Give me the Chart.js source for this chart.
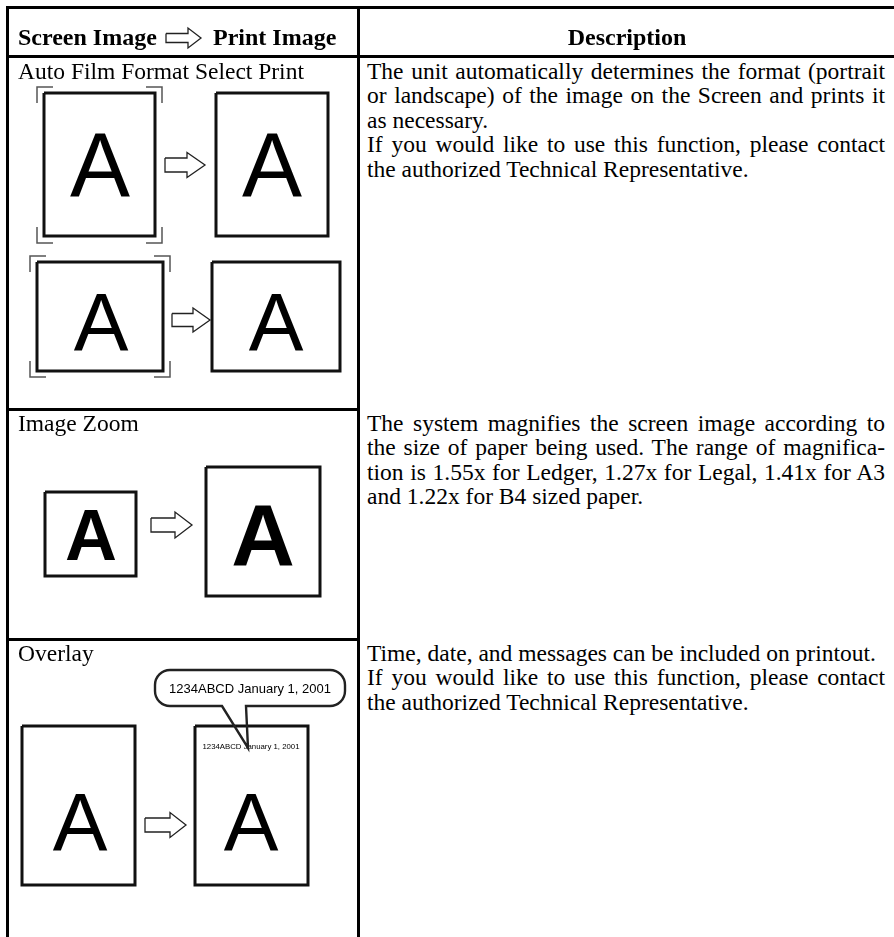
<!DOCTYPE html>
<html>
<head>
<meta charset="utf-8">
<script src="https://cdn.jsdelivr.net/npm/chart.js@4.4.1/dist/chart.umd.min.js"></script>
<style>
  body { margin: 0; background: #fff; width: 894px; height: 937px; overflow: hidden; position: relative;
         font-family: "Liberation Serif", "Times New Roman", serif; color: #000; }
  #diagram { position: absolute; left: 0; top: 0; }
  .rule { position: absolute; background: #000; }
  .cell { position: absolute; font-size: 23.5px; line-height: 24.5px; }
  .cell div { white-space: nowrap; height: 24.5px; }
  .cell div.just { text-align: justify; text-align-last: justify; white-space: normal; }
  .head { position: absolute; font-weight: bold; font-size: 24px; line-height: 30px; white-space: nowrap; }
</style>
</head>
<body>
<canvas id="diagram" width="360" height="937"></canvas>
<div id="table"></div>
<script>
// Table text
const headerLeft = ['Screen Image', 'Print Image'];
const headerRight = 'Description';
const featureNames = ['Auto Film Format Select Print', 'Image Zoom', 'Overlay'];
const paperSizes = ['Ledger', 'Legal', 'A3', 'B4'];
const zoomFactors = [1.55, 1.27, 1.41, 1.22];
const overlayStamp = '1234ABCD January 1, 2001';
const contactLines = ['If you would like to use this function, please contact', 'the authorized Technical Representative.'];

function zoomLabel(i) {
  return zoomFactors[i].toFixed(2) + 'x for ' + paperSizes[i];
}

// each description is a list of paragraphs, each paragraph a list of lines
const descriptions = [
  [
    ['The unit automatically determines the format (portrait', 'or landscape) of the image on the Screen and prints it', 'as necessary.'],
    contactLines
  ],
  [
    ['The system magnifies the screen image according to',
     'the size of paper being used. The range of magnifica-',
     'tion is ' + [0, 1, 2].map(zoomLabel).join(', '),
     'and ' + zoomLabel(3) + ' sized paper.']
  ],
  [
    ['Time, date, and messages can be included on printout.'],
    contactLines
  ]
];

// Layout (page pixels)
const rowBaselines = [79, 431, 661];
const lineGap = 24.5;
const rules = [
  [6, 6, 888, 3], [6, 6, 3, 931], [357, 6, 3, 931], [6, 55, 888, 3],
  [6, 408, 354, 3], [6, 638, 354, 3]
];

// pages drawn in the left column: [x1, y1, x2, y2]
const pages = [
  [44, 93, 155, 236], [216, 93, 328, 236],
  [37, 262, 163, 371], [212, 262, 340, 371],
  [45, 492, 136, 576], [206, 467, 320, 596],
  [22, 726, 135, 885], [195, 726, 308, 885]
];
const screenFrames = [[37, 87, 162, 243], [30, 256, 170, 377]];
// arrows: [x0, x1, centerY, bodyHalf, headHalf, headLen]
const arrows = [
  [166, 201, 38, 4.5, 10, 13],
  [165, 205, 165, 7, 12.5, 18],
  [172, 210, 320, 6.5, 12, 17],
  [151, 192, 525, 7, 13, 17],
  [145, 186, 825, 7, 12.5, 16]
];
// letters: [text, centerX, baselineY, size, bold]
const letters = [
  ['A', 100, 196, 90, false], ['A', 272, 196, 90, false],
  ['A', 101, 350, 82, false], ['A', 276, 350, 82, false],
  ['A', 91, 560, 72, true], ['A', 263, 565, 88, true],
  ['A', 80, 850, 82, false], ['A', 251, 850, 82, false],
  [overlayStamp, 251, 749, 7.8, false]
];
const bubble = { box: [155, 670, 345, 706], tail: [[222, 706], [248, 748], [246, 706]], text: overlayStamp, size: 13 };

// Build table html
const table = document.getElementById('table');

function addDiv(cls, left, top, html, extra) {
  const el = document.createElement('div');
  el.className = cls;
  el.style.left = left + 'px';
  el.style.top = top + 'px';
  if (extra) Object.assign(el.style, extra);
  el.innerHTML = html;
  table.appendChild(el);
  return el;
}

rules.forEach(r => addDiv('rule', r[0], r[1], '', { width: r[2] + 'px', height: r[3] + 'px' }));

addDiv('head', 18, 45 - 23, headerLeft[0]);
addDiv('head', 213, 45 - 23, headerLeft[1]);
addDiv('head', 360, 45 - 23, headerRight, { width: '534px', textAlign: 'center' });

const baseOffset = lineGap / 2 + 0.3375 * 23.5;
featureNames.forEach((name, i) => {
  addDiv('cell', 18, rowBaselines[i] - baseOffset, '<div>' + name + '</div>');
  const lines = descriptions[i].map(par =>
    par.map((line, j) => '<div class="' + (j < par.length - 1 ? 'just' : '') + '">' + line + '</div>').join('')
  ).join('');
  addDiv('cell', 367, rowBaselines[i] - baseOffset, lines, { width: '518px' });
});

// Diagram datasets
function rectPoints(b) {
  return [{ x: b[0], y: b[1] }, { x: b[2], y: b[1] }, { x: b[2], y: b[3] }, { x: b[0], y: b[3] }, { x: b[0], y: b[1] }];
}

function arrowPoints(a) {
  const [x0, x1, cy, bh, hh, hl] = a;
  const xh = x1 - hl;
  return [
    { x: x0, y: cy - bh }, { x: xh, y: cy - bh }, { x: xh, y: cy - hh }, { x: x1, y: cy },
    { x: xh, y: cy + hh }, { x: xh, y: cy + bh }, { x: x0, y: cy + bh }, { x: x0, y: cy - bh }
  ];
}

function cornerSets(f) {
  const len = 16;
  const [x1, y1, x2, y2] = f;
  return [
    [{ x: x1, y: y1 + len }, { x: x1, y: y1 }, { x: x1 + len, y: y1 }],
    [{ x: x2 - len, y: y1 }, { x: x2, y: y1 }, { x: x2, y: y1 + len }],
    [{ x: x1, y: y2 - len }, { x: x1, y: y2 }, { x: x1 + len, y: y2 }],
    [{ x: x2 - len, y: y2 }, { x: x2, y: y2 }, { x: x2, y: y2 - len }]
  ];
}

function lineSet(data, width, color) {
  return { data, showLine: true, borderColor: color, borderWidth: width, pointRadius: 0,
           fill: false, tension: 0, borderJoinStyle: 'miter', borderCapStyle: 'butt', clip: false };
}

const datasets = [];
pages.forEach(p => datasets.push(lineSet(rectPoints(p), 3, '#111')));
screenFrames.forEach(f => cornerSets(f).forEach(c => datasets.push(lineSet(c, 1.5, '#555'))));
arrows.forEach(a => datasets.push(lineSet(arrowPoints(a), 1.3, '#222')));

const drawingPlugin = {
  id: 'drawing',
  afterDatasetsDraw(chart) {
    const ctx = chart.ctx;
    const sx = v => chart.scales.x.getPixelForValue(v);
    const sy = v => chart.scales.y.getPixelForValue(v);
    ctx.save();
    ctx.fillStyle = '#000';
    ctx.textAlign = 'center';
    ctx.textBaseline = 'alphabetic';
    letters.forEach(l => {
      ctx.font = (l[4] ? 'bold ' : '') + l[3] + 'px "Liberation Sans", Arial, sans-serif';
      ctx.fillText(l[0], sx(l[1]), sy(l[2]));
    });

    // callout bubble
    const [bx1, by1, bx2, by2] = bubble.box;
    const r = 15;
    const t = bubble.tail;
    ctx.beginPath();
    ctx.moveTo(sx(bx1 + r), sy(by1));
    ctx.lineTo(sx(bx2 - r), sy(by1));
    ctx.arcTo(sx(bx2), sy(by1), sx(bx2), sy(by2), r);
    ctx.arcTo(sx(bx2), sy(by2), sx(bx2 - r), sy(by2), r);
    ctx.lineTo(sx(t[2][0]), sy(t[2][1]));
    ctx.lineTo(sx(t[1][0]), sy(t[1][1]));
    ctx.lineTo(sx(t[0][0]), sy(t[0][1]));
    ctx.lineTo(sx(bx1 + r), sy(by2));
    ctx.arcTo(sx(bx1), sy(by2), sx(bx1), sy(by1), r);
    ctx.arcTo(sx(bx1), sy(by1), sx(bx1 + r), sy(by1), r);
    ctx.closePath();
    ctx.lineWidth = 2.4;
    ctx.strokeStyle = '#222';
    ctx.stroke();
    ctx.font = bubble.size + 'px "Liberation Sans", Arial, sans-serif';
    ctx.fillText(bubble.text, sx((bx1 + bx2) / 2), sy(by2 - 13.5));
    ctx.restore();
  }
};

new Chart(document.getElementById('diagram'), {
  type: 'scatter',
  data: { datasets },
  options: {
    responsive: false,
    animation: false,
    events: [],
    layout: { padding: 0 },
    plugins: { legend: { display: false }, tooltip: { enabled: false } },
    scales: {
      x: { type: 'linear', min: 0, max: 360, display: false },
      y: { type: 'linear', min: 0, max: 937, reverse: true, display: false }
    }
  },
  plugins: [drawingPlugin]
});
</script>
</body>
</html>
